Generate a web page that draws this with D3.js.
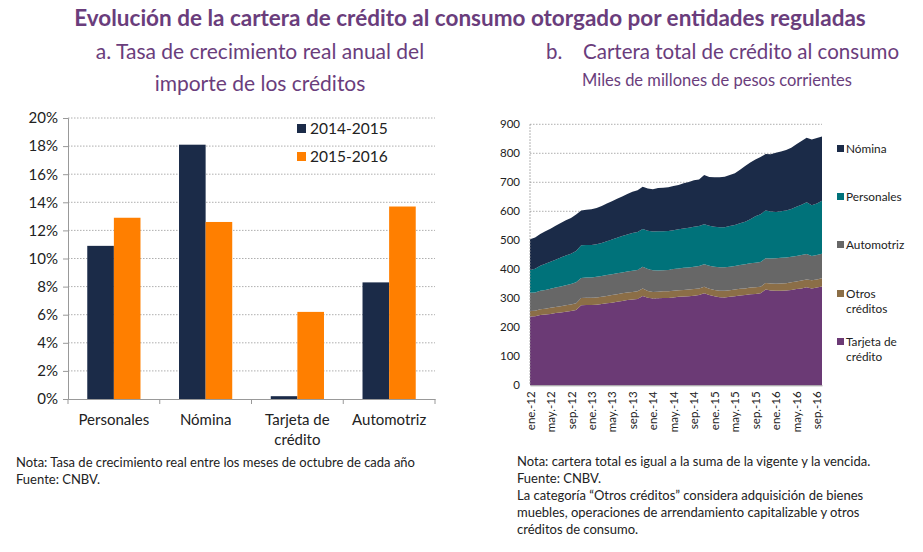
<!DOCTYPE html>
<html>
<head>
<meta charset="utf-8">
<script src="https://cdn.jsdelivr.net/npm/d3@7"></script>
<style>
  body { margin: 0; background: #fff; }
  svg { font-family: Lato, "Open Sans", sans-serif; }
</style>
</head>
<body>
<svg id="chart" width="923" height="552"></svg>
<script>
// --- panel a: bars
const categories = ["Personales", "Nómina", "Tarjeta de crédito", "Automotriz"]
const periods = ["2014-2015", "2015-2016"]
const rate1415 = [10.9, 18.1, 0.2, 8.3]
const rate1516 = [12.9, 12.6, 6.2, 13.7]
const rateTicks = [0, 2, 4, 6, 8, 10, 12, 14, 16, 18, 20]

// --- panel b: stacked areas, ene-12 .. oct-16
const monthAbbr = ["ene.", "feb.", "mar.", "abr.", "may.", "jun.", "jul.", "ago.", "sep.", "oct.", "nov.", "dic."]
const years = ["12", "13", "14", "15", "16"]
const tickLabels = ["ene.-12","may.-12","sep.-12","ene.-13","may.-13","sep.-13","ene.-14","may.-14","sep.-14","ene.-15","may.-15","sep.-15","ene.-16","may.-16","sep.-16"]
const seriesNames = ["Tarjeta de crédito", "Otros créditos", "Automotriz", "Personales", "Nómina"]
const tarjeta = [237,238,242,244,246,249,251,254,256,260,
  276,277,277,278,280,283,285,288,291,294,
  296,298,308,302,299,300,301,301,303,305,
  306,307,309,311,317,311,307,304,303,305,
  307,310,311,314,315,317,330,327,326,326,
  327,329,332,334,338,334,337,341]
const otros = [19,19,20,20,21,21,22,22,23,23,
  25,25,25,25,25,25,26,26,26,26,
  26,26,26,23,23,23,23,23,23,23,
  23,23,23,23,23,22,22,22,23,23,
  23,23,23,23,23,23,23,24,24,25,
  25,26,26,27,27,28,28,28]
const automotriz = [63,63,64,65,66,67,68,69,70,72,
  69,70,70,71,72,72,72,72,72,72,
  73,74,75,76,75,73,73,74,75,75,
  76,76,77,77,77,79,80,81,81,81,
  81,82,83,84,85,85,85,86,88,89,
  89,88,88,88,88,84,84,85]
const personales = [79,82,86,90,93,96,100,103,105,108,
  113,112,112,112,114,117,120,123,126,128,
  130,131,130,132,133,135,134,134,134,135,
  136,137,138,138,138,138,138,138,138,140,
  142,144,147,152,160,165,165,162,160,160,
  162,165,170,174,178,175,178,182]
const nomina = [106,108,110,112,114,117,119,121,123,126,
  120,121,123,125,127,130,132,134,136,140,
  142,144,146,146,146,149,150,151,152,153,
  156,158,160,161,170,168,170,172,174,176,
  178,184,192,195,196,197,195,198,204,206,
  208,211,215,219,223,227,226,222]
const stockTicks = [0, 100, 200, 300, 400, 500, 600, 700, 800, 900]

const purple = "#6a3d7c"
const svg = d3.select("#chart")

// titles
svg.append("text").attr("x", 470).attr("y", 26).attr("text-anchor", "middle")
  .attr("font-size", 22.5).attr("font-weight", "bold").attr("fill", purple)
  .text("Evolución de la cartera de crédito al consumo otorgado por entidades reguladas")
svg.append("text").attr("x", 260).attr("y", 59).attr("text-anchor", "middle")
  .attr("font-size", 21).attr("fill", purple).text("a. Tasa de crecimiento real anual del")
svg.append("text").attr("x", 260).attr("y", 91).attr("text-anchor", "middle")
  .attr("font-size", 21).attr("fill", purple).text("importe de los créditos")
svg.append("text").attr("x", 546).attr("y", 59)
  .attr("font-size", 20.5).attr("fill", purple).text("b.")
svg.append("text").attr("x", 583).attr("y", 59)
  .attr("font-size", 20.5).attr("fill", purple).text("Cartera total de crédito al consumo")
svg.append("text").attr("x", 582).attr("y", 86)
  .attr("font-size", 16.5).attr("fill", purple).text("Miles de millones de pesos corrientes")

// ---------- panel a
const aLeft = 68, aRight = 435, aTop = 118, aBottom = 399
const x0 = d3.scaleBand().domain(categories).range([aLeft, aRight]).paddingInner(0.42).paddingOuter(0.21)
const x1 = d3.scaleBand().domain(periods).range([0, x0.bandwidth()])
const y = d3.scaleLinear().domain([0, 20]).range([aBottom, aTop])
const barColors = ["#1b2b48", "#ff7f00"]

const gA = svg.append("g")
gA.selectAll(".grid").data(rateTicks.slice(1)).join("line")
  .attr("x1", aLeft).attr("x2", aRight).attr("y1", d => y(d)).attr("y2", d => y(d))
  .attr("stroke", "#9a9a9a").attr("stroke-width", 0.8).attr("stroke-dasharray", "1.5,1.5")

const yAxis = gA.append("g").attr("transform", `translate(${aLeft},0)`)
  .call(d3.axisLeft(y).tickValues(rateTicks).tickFormat(d => d + "%").tickSize(5))
yAxis.selectAll("text").attr("font-size", 15).attr("fill", "#222").attr("x", -10).attr("font-family", "Lato")
yAxis.selectAll("line").attr("stroke", "#999")
yAxis.select(".domain").attr("stroke", "#999")

const xAxis = gA.append("g").attr("transform", `translate(0,${aBottom})`)
  .call(d3.axisBottom(x0).tickSize(0).tickFormat(""))
xAxis.select(".domain").attr("stroke", "#999")
// category separators
const seps = categories.map((c, i) => aLeft + i * (aRight - aLeft) / categories.length).concat([aRight])
gA.selectAll(".sep").data(seps).join("line")
  .attr("x1", d => d).attr("x2", d => d).attr("y1", aBottom).attr("y2", aBottom + 5).attr("stroke", "#999")

const rows = categories.map((c, i) => ({ c, v: [rate1415[i], rate1516[i]] }))
const grp = gA.selectAll(".grp").data(rows).join("g")
  .attr("transform", d => `translate(${x0(d.c)},0)`)
grp.selectAll("rect").data(d => d.v.map((v, j) => ({ p: periods[j], v }))).join("rect")
  .attr("x", d => x1(d.p)).attr("width", x1.bandwidth())
  .attr("y", d => y(d.v)).attr("height", d => aBottom - y(d.v))
  .attr("fill", (d, j) => barColors[j])

const catLbl = gA.selectAll(".cat").data(categories).join("text")
  .attr("x", d => x0(d) + x0.bandwidth() / 2).attr("y", 425)
  .attr("text-anchor", "middle").attr("font-size", 15).attr("fill", "#222")
catLbl.each(function (d) {
  const words = d === "Tarjeta de crédito" ? ["Tarjeta de", "crédito"] : [d]
  d3.select(this).selectAll("tspan").data(words).join("tspan")
    .attr("x", x0(d) + x0.bandwidth() / 2).attr("dy", (w, i) => i ? 20 : 0).text(w => w)
})

const legA = gA.selectAll(".leg").data(periods).join("g")
  .attr("transform", (d, i) => `translate(297,${124 + i * 28})`)
legA.append("rect").attr("width", 9).attr("height", 9).attr("fill", (d, i) => barColors[i])
legA.append("text").attr("x", 13).attr("y", 9.5).attr("font-size", 15.5).attr("fill", "#222").text(d => d)

svg.append("text").attr("x", 16).attr("y", 467).attr("font-size", 13).attr("fill", "#222")
  .text("Nota: Tasa de crecimiento real entre los meses de octubre de cada año")
svg.append("text").attr("x", 16).attr("y", 484).attr("font-size", 13).attr("fill", "#222")
  .text("Fuente: CNBV.")

// ---------- panel b
const months = []
years.forEach(yr => monthAbbr.forEach(m => months.push(m + "-" + yr)))
months.length = tarjeta.length

const table = months.map((m, i) => ({
  month: m,
  "Tarjeta de crédito": tarjeta[i],
  "Otros créditos": otros[i],
  "Automotriz": automotriz[i],
  "Personales": personales[i],
  "Nómina": nomina[i]
}))
const stack = d3.stack().keys(seriesNames)(table)

const bl = 530, br = 822, bt = 124.3, bb = 385.3
const xb = d3.scalePoint().domain(months).range([bl, br])
const yb = d3.scaleLinear().domain([0, 900]).range([bb, bt])
const areaColors = { "Tarjeta de crédito": "#6b3a75", "Otros créditos": "#8b6e47", "Automotriz": "#676767", "Personales": "#00727a", "Nómina": "#1b2b48" }

const gB = svg.append("g")
gB.selectAll(".grid").data(stockTicks.slice(1)).join("line")
  .attr("x1", bl).attr("x2", br).attr("y1", d => yb(d)).attr("y2", d => yb(d))
  .attr("stroke", "#9a9a9a").attr("stroke-width", 0.8).attr("stroke-dasharray", "1.5,1.5")

const area = d3.area().x(d => xb(d.data.month)).y0(d => yb(d[0])).y1(d => yb(d[1]))
gB.selectAll(".layer").data(stack).join("path")
  .attr("d", area).attr("fill", d => areaColors[d.key])

gB.append("line").attr("x1", bl).attr("x2", bl).attr("y1", bt).attr("y2", bb)
  .attr("stroke", "#999").attr("stroke-dasharray", "1.5,1.5")

const yAxisB = gB.append("g").attr("transform", `translate(${bl},0)`)
  .call(d3.axisLeft(yb).tickValues(stockTicks).tickSize(0).tickPadding(10))
yAxisB.select(".domain").remove()
yAxisB.selectAll("text").attr("font-size", 11.5).attr("fill", "#222").attr("font-family", "Lato")

const xAxisB = gB.append("g").attr("transform", `translate(0,${bb})`)
  .call(d3.axisBottom(xb).tickValues(tickLabels).tickSize(0))
xAxisB.select(".domain").attr("stroke", "#999")
xAxisB.selectAll("text").attr("font-size", 11.5).attr("fill", "#222").attr("font-family", "Lato")
  .attr("transform", "rotate(-90)").attr("text-anchor", "end")
  .attr("x", -6).attr("y", 0).attr("dy", "0.35em")

const legItems = [
  { k: "Nómina", lines: ["Nómina"], y: 149 },
  { k: "Personales", lines: ["Personales"], y: 197 },
  { k: "Automotriz", lines: ["Automotriz"], y: 245 },
  { k: "Otros créditos", lines: ["Otros", "créditos"], y: 294 },
  { k: "Tarjeta de crédito", lines: ["Tarjeta de", "crédito"], y: 342 }
]
const legB = gB.selectAll(".legb").data(legItems).join("g")
  .attr("transform", d => `translate(837,${d.y})`)
legB.append("rect").attr("x", 0).attr("y", -4).attr("width", 7).attr("height", 7).attr("fill", d => areaColors[d.k])
legB.append("text").attr("font-size", 11.8).attr("fill", "#222")
  .selectAll("tspan").data(d => d.lines).join("tspan")
  .attr("x", 9).attr("y", (d, i) => 4 + i * 15).text(d => d)

const notesB = [
  "Nota: cartera total es igual a la suma de la vigente y la vencida.",
  "Fuente: CNBV.",
  "La categoría “Otros créditos” considera adquisición de bienes",
  "muebles, operaciones de arrendamiento capitalizable y otros",
  "créditos de consumo."
]
svg.selectAll(".noteb").data(notesB).join("text")
  .attr("x", 517).attr("y", (d, i) => 466 + i * 17).attr("font-size", 13).attr("fill", "#222")
  .text(d => d)
</script>
</body>
</html>
